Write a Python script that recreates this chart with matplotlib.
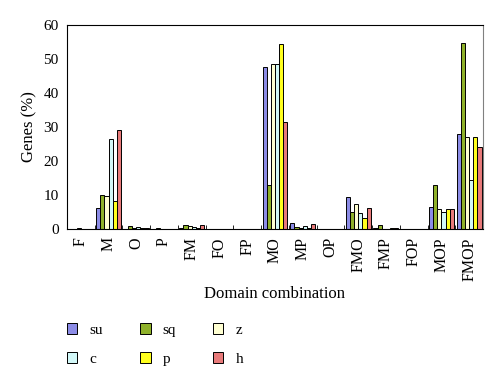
import numpy as np
import matplotlib.pyplot as plt
from matplotlib.patches import Patch

plt.rcParams['font.family'] = ['Liberation Serif', 'DejaVu Serif']

domains = ['F', 'M', 'O', 'P', 'FM', 'FO', 'FP', 'MO', 'MP', 'OP',
           'FMO', 'FMP', 'FOP', 'MOP', 'FMOP']

su = [0.0, 6.1, 0.0, 0.0, 0.3, 0.0, 0.0, 47.6, 1.7, 0.0, 9.5, 0.3, 0.0, 6.4, 27.8]
sq = [0.0, 10.0, 0.8, 0.2, 1.1, 0.0, 0.0, 12.9, 0.5, 0.0, 4.9, 1.2, 0.0, 12.9, 54.8]
z = [0.2, 9.7, 0.2, 0.0, 0.9, 0.0, 0.0, 48.4, 0.3, 0.0, 7.4, 0.0, 0.0, 5.8, 27.2]
c = [0.0, 26.4, 0.5, 0.0, 0.5, 0.0, 0.0, 48.4, 1.0, 0.0, 4.6, 0.0, 0.0, 5.0, 14.4]
p = [0.0, 8.3, 0.3, 0.0, 0.2, 0.0, 0.0, 54.4, 0.4, 0.0, 3.1, 0.2, 0.0, 5.8, 27.2]
h = [0.0, 29.1, 0.2, 0.0, 1.2, 0.0, 0.0, 31.5, 1.4, 0.0, 6.1, 0.3, 0.0, 5.8, 24.1]

series = [('su', su, '#8c8ce6'), ('sq', sq, '#8fb12a'), ('z', z, '#ffffd2'),
          ('c', c, '#d2f8f8'), ('p', p, '#ffff1e'), ('h', h, '#e87a7a')]

fig = plt.figure(figsize=(5, 3.86), dpi=100)
ax = fig.add_axes([0.134, 0.407, 0.832, 0.528])

x = np.arange(len(domains))
w = 0.15
for i, (name, vals, col) in enumerate(series):
    ax.bar(x + (i - 2.5) * w, vals, width=w, color=col, edgecolor='black',
           linewidth=0.7, label=name)

ax.set_xlim(-0.5, len(domains) - 0.5)
ax.set_ylim(0, 60)
ax.set_yticks(np.arange(0, 61, 10))
ax.set_xticks(x)
ax.set_xticklabels(domains, rotation=90, fontsize=11.5)
ax.set_xticks(np.arange(-0.5, len(domains), 1), minor=True)
ax.tick_params(axis='x', which='major', length=0, pad=6)
ax.tick_params(axis='x', which='minor', direction='in', length=3)
ax.tick_params(axis='y', length=0, labelsize=11, pad=6)
for s in ax.spines.values():
    s.set_linewidth(0.8)
ax.spines['right'].set_color('#808080')

ax.set_ylabel('Genes (%)', fontsize=12)
ax.set_xlabel('Domain combination', fontsize=12, labelpad=4)

handles = [Patch(facecolor=col, edgecolor='black', linewidth=0.7, label=name)
           for name, vals, col in series]
order = [0, 3, 1, 4, 2, 5]
fig.legend([handles[k] for k in order], [series[k][0] for k in order],
           ncol=3, loc='upper left', bbox_to_anchor=(0.106, 0.198),
           frameon=False, fontsize=11, handlelength=0.7, handleheight=0.7,
           handletextpad=0.8, columnspacing=2.4, labelspacing=1.0)

fig.savefig('out.png', dpi=100)
